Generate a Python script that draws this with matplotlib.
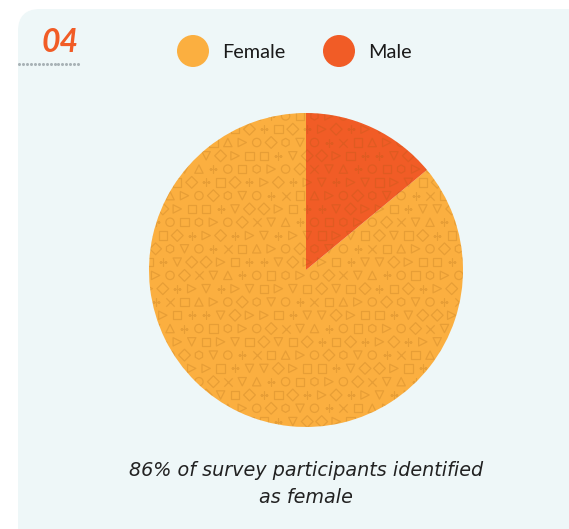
"""
Survey gender split pie chart with patterned wedges.
"""

import matplotlib
matplotlib.use("Agg")
import matplotlib.pyplot as plt
from matplotlib.patches import FancyBboxPatch, Circle
import numpy as np

plt.rcParams["font.family"] = ["Lato", "DejaVu Sans"]

# data
categories = ["Female", "Male"]
shares = [86, 14]
colors = ["#FBAF40", "#F15C26"]
panel_number = "04"
caption_lines = ["86% of survey participants identified", "as female"]

W, H = 569, 529
fig = plt.figure(figsize=(W / 100, H / 100), dpi=100)
fig.patch.set_facecolor("white")

# pixel-space overlay for background panel, header and legend
bg = fig.add_axes([0, 0, 1, 1])
bg.set_xlim(0, W)
bg.set_ylim(H, 0)
bg.axis("off")
bg.add_patch(FancyBboxPatch((18, 9), 620, 540, boxstyle="round,pad=0,rounding_size=22",
                            facecolor="#EEF7F8", edgecolor="none", zorder=0))

bg.text(42, 52, panel_number, fontsize=23, fontweight="bold", style="italic",
        color="#F15C26", ha="left", va="baseline")
dots_x = np.arange(19.5, 81, 3.9)
bg.plot(dots_x, np.full(len(dots_x), 64), "o", ms=2.2, color="#A9B3B7", mec="none")

# legend
legend_x = [193, 339]
for x, cat, col in zip(legend_x, categories, colors):
    bg.add_patch(Circle((x, 51), 16, facecolor=col, edgecolor="none"))
    bg.text(x + 29, 58, cat, fontsize=14.3, color="#1A1A1A", ha="left", va="baseline")

for k, line in enumerate(caption_lines):
    bg.text(306, 476 + 27 * k, line, fontsize=13.8, style="italic", color="#222222",
            ha="center", va="baseline", family=["DejaVu Sans"])

# pie
cx, cy, r = 306, 270, 157
ax = fig.add_axes([(cx - r) / W, (H - cy - r) / H, 2 * r / W, 2 * r / H])
wedges, _ = ax.pie(shares, colors=colors, startangle=90, counterclock=True,
                   radius=1, wedgeprops=dict(linewidth=0))
ax.set_xlim(-1, 1)
ax.set_ylim(-1, 1)
ax.set_aspect("equal")
ax.axis("off")

# shape texture over the pie
clip = Circle((0, 0), 1, transform=ax.transData)
step = 0.092
gx = np.arange(-1.05, 1.06, step)
gy = np.arange(-1.05, 1.06, step * 0.92)
shapes = ["o", "s", "^", "D", "h", "+", "x", ">", "o", "v"]
pts = {m: ([], []) for m in set(shapes)}
for j, y in enumerate(gy):
    for i, x in enumerate(gx):
        m = shapes[(i * 3 + j * 7 + (i * j) % 4) % len(shapes)]
        pts[m][0].append(x + (step / 2 if j % 2 else 0))
        pts[m][1].append(y)
for m, (xs, ys) in pts.items():
    filled = m not in ("+", "x")
    sc = ax.scatter(xs, ys, marker=m, s=36,
                    facecolors="none" if filled else "#9A5A10",
                    edgecolors="#9A5A10", linewidths=0.9, alpha=0.2, zorder=3)
    sc.set_clip_path(clip)

fig.savefig("out.png", dpi=100)
